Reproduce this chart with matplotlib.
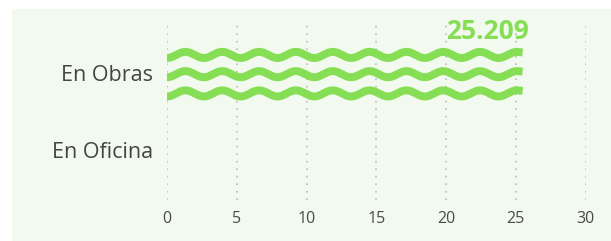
import numpy as np
import matplotlib
matplotlib.use("Agg")
import matplotlib.pyplot as plt
from matplotlib.patches import Rectangle

categories = ["En Obras", "En Oficina"]
values = [25.209, 0.0]
value_labels = ["25.209", ""]
xticks = [0, 5, 10, 15, 20, 25, 30]

GREEN = "#86DE55"
BG = "#F2F9EE"
TXT = "#444444"

W, H = 611, 241
fig = plt.figure(figsize=(W / 100, H / 100), dpi=100)
fig.patch.set_facecolor("white")
fig.patches.append(Rectangle((12 / W, 0), 1 - 12 / W, 1 - 9 / H,
                             transform=fig.transFigure, facecolor=BG,
                             edgecolor="none", zorder=-10))

left, right = 167 / W, 585.5 / W
top, bottom = 1 - 23 / H, 1 - 200 / H
ax = fig.add_axes([left, bottom, right - left, top - bottom])
ax.set_facecolor("none")
ax.set_xlim(0, 30)
ax.set_ylim(1.65, -0.65)

font = "Open Sans"
ax.set_xticks(xticks)
ax.set_xticklabels([str(t) for t in xticks], fontsize=11.5, color="#4a4a4a", family=font)
ax.set_yticks(range(len(categories)))
ax.set_yticklabels(categories, fontsize=15.5, color=TXT, family=font)
ax.tick_params(axis="x", length=0, pad=8)
ax.tick_params(axis="y", length=0, pad=10)
for s in ax.spines.values():
    s.set_visible(False)
ax.xaxis.grid(True, color="#BDBDBD", linestyle=(0, (1, 3.5)), linewidth=1.2)
ax.set_axisbelow(True)

period = 2.64
amp = 0.04
offsets = [-0.25, 0.0, 0.25]
for i, v in enumerate(values):
    if v <= 0:
        continue
    x = np.linspace(0, v, 600)
    for off in offsets:
        y = i + off + 0.015 + amp * np.cos(2 * np.pi * x / period)
        ax.plot(x, y, color=GREEN, lw=5.7, solid_capstyle="projecting", zorder=3)
    ax.text(v + 0.75, i - 0.54, value_labels[i], ha="right", va="center",
            fontsize=19, fontweight="bold", color=GREEN, family=font, zorder=4)

fig.savefig("out.png", dpi=100)
